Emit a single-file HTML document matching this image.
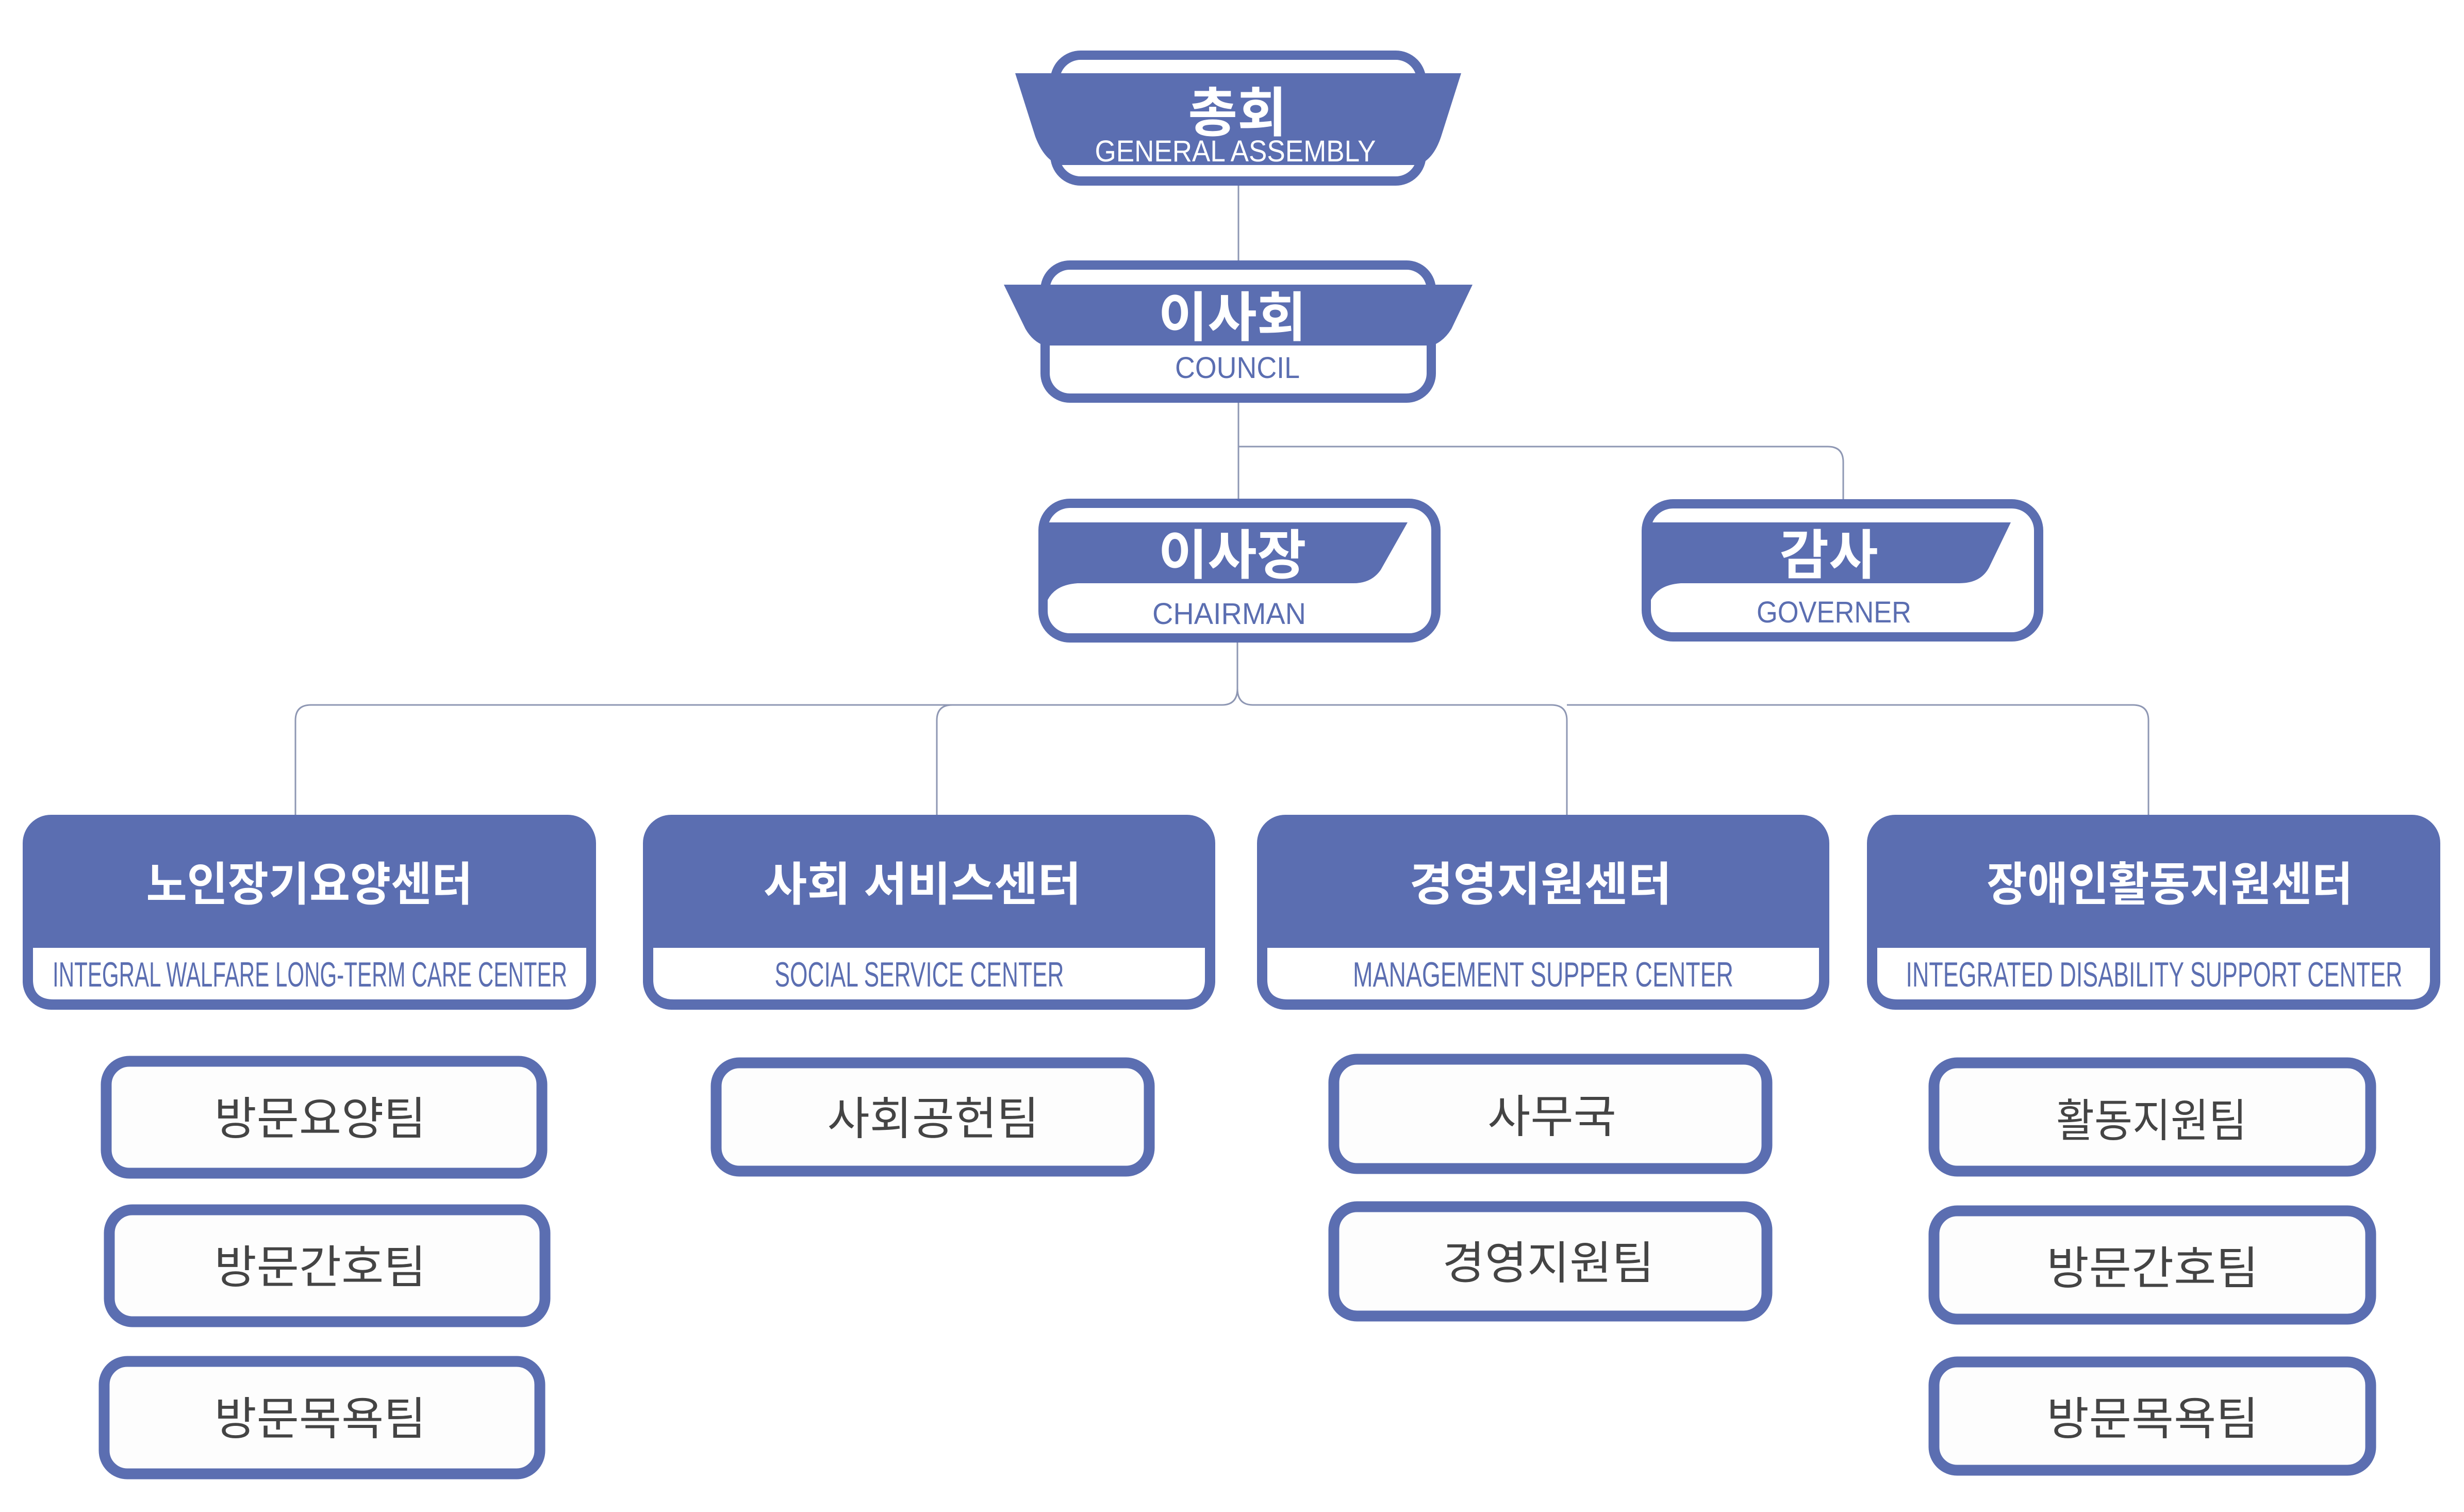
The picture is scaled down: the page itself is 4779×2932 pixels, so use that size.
<!DOCTYPE html>
<html><head><meta charset="utf-8"><style>
html,body{margin:0;padding:0;background:#fff;}
svg{display:block;}
.ko{font-family:"Liberation Sans","Noto Sans CJK KR",sans-serif;}
.en{font-family:"Liberation Sans",sans-serif;}
</style></head><body>
<svg width="4779" height="2932" viewBox="0 0 4779 2932" xmlns="http://www.w3.org/2000/svg">
<g fill="none" stroke="#8e97b3" stroke-width="3">
<line x1="2402" y1="360" x2="2402" y2="505"/>
<line x1="2402" y1="781" x2="2402" y2="967"/>
<path d="M2402 866 H3545 Q3575 866 3575 896 V969"/>
<path d="M2400 1246 V1335 Q2400 1367 2370 1367 H603 Q573 1367 573 1397 V1580"/>
<path d="M2400 1335 Q2400 1367 2430 1367 H3009 Q3039 1367 3039 1397 V1580"/>
<path d="M1847 1367 Q1817 1367 1817 1397 V1580"/>
<path d="M3039 1367 H4137 Q4167 1367 4167 1397 V1580"/>
</g>
<g fill="#5b6eb1">
<rect x="2046" y="107" width="711" height="244" rx="50" fill="#fff" stroke="#5b6eb1" stroke-width="18"/>
<path d="M1969 142 H2834 L2795 265 Q2780 310 2750 320 H2055 Q2025 310 2008 265 Z"/>
<rect x="2027" y="514" width="749" height="258" rx="48" fill="#fff" stroke="#5b6eb1" stroke-width="18"/>
<path d="M1947 552 H2856 L2815 638 Q2800 662 2778 670 H2025 Q2003 662 1989 638 Z"/>
<rect x="2023" y="976" width="762" height="261" rx="52" fill="#fff" stroke="#5b6eb1" stroke-width="18"/>
<path d="M2025 1013 H2730 L2678 1105 Q2660 1131 2625 1131 H2090 Q2030 1135 2025 1190 Z"/>
<rect x="3193" y="977" width="761" height="258" rx="52" fill="#fff" stroke="#5b6eb1" stroke-width="18"/>
<path d="M3195 1013 H3900 L3858 1100 Q3842 1131 3800 1131 H3260 Q3200 1135 3195 1190 Z"/>
</g>
<g fill="#5b6eb1">
<rect x="44" y="1580" width="1112" height="378" rx="55"/>
<rect x="1247" y="1580" width="1110" height="378" rx="55"/>
<rect x="2438" y="1580" width="1110" height="378" rx="55"/>
<rect x="3621" y="1580" width="1112" height="378" rx="55"/>
</g>
<g fill="#fff">
<path d="M64 1838 H1137 V1900 Q1137 1938 1095 1938 H104 Q64 1938 64 1900 Z"/>
<path d="M1267 1838 H2337 V1900 Q2337 1938 2297 1938 H1307 Q1267 1938 1267 1900 Z"/>
<path d="M2458 1838 H3528 V1900 Q3528 1938 3488 1938 H2498 Q2458 1938 2458 1900 Z"/>
<path d="M3641 1838 H4713 V1900 Q4713 1938 4673 1938 H3681 Q3641 1938 3641 1900 Z"/>
</g>
<g fill="#fdfdfd" stroke="#5b6eb1" stroke-width="21">
<rect x="206" y="2058" width="845" height="217" rx="45"/>
<rect x="212" y="2346" width="845" height="217" rx="45"/>
<rect x="202" y="2640" width="845" height="218" rx="45"/>
<rect x="1389" y="2061" width="840" height="210" rx="45"/>
<rect x="2587" y="2054" width="840" height="212" rx="45"/>
<rect x="2587" y="2340" width="840" height="212" rx="45"/>
<rect x="3751" y="2061" width="847" height="210" rx="45"/>
<rect x="3751" y="2348" width="847" height="210" rx="45"/>
<rect x="3751" y="2641" width="847" height="210" rx="45"/>
</g>
<g class="ko" fill="#fff" text-anchor="middle" font-size="104" font-weight="bold">
<text x="2400" y="255">총회</text>
<text x="2390" y="652">이사회</text>
<text x="2390" y="1113">이사장</text>
<text x="3547" y="1113">감사</text>
</g>
<g class="en" fill="#fff" font-size="58" text-anchor="middle">
<text x="2396" y="313" textLength="545" lengthAdjust="spacingAndGlyphs">GENERAL ASSEMBLY</text>
</g>
<g class="en" fill="#5b6eb1" font-size="58" text-anchor="middle">
<text x="2400" y="733" textLength="242" lengthAdjust="spacingAndGlyphs">COUNCIL</text>
<text x="2384" y="1210" textLength="298" lengthAdjust="spacingAndGlyphs">CHAIRMAN</text>
<text x="3557" y="1207" textLength="300" lengthAdjust="spacingAndGlyphs">GOVERNER</text>
</g>
<g class="ko" fill="#fff" font-size="90" text-anchor="middle" font-weight="bold">
<text x="600" y="1746" textLength="633" lengthAdjust="spacingAndGlyphs">노인장기요양센터</text>
<text x="1789" y="1746" textLength="616" lengthAdjust="spacingAndGlyphs">사회 서비스센터</text>
<text x="2988" y="1746" textLength="509" lengthAdjust="spacingAndGlyphs">경영지원센터</text>
<text x="4208" y="1746" textLength="710" lengthAdjust="spacingAndGlyphs">장애인활동지원센터</text>
</g>
<g class="en" fill="#5b6eb1" font-size="68" text-anchor="middle">
<text x="601" y="1913" textLength="998" lengthAdjust="spacingAndGlyphs">INTEGRAL WALFARE LONG-TERM CARE CENTER</text>
<text x="1783" y="1913" textLength="561" lengthAdjust="spacingAndGlyphs">SOCIAL SERVICE CENTER</text>
<text x="2993" y="1913" textLength="738" lengthAdjust="spacingAndGlyphs">MANAGEMENT SUPPER CENTER</text>
<text x="4178" y="1913" textLength="963" lengthAdjust="spacingAndGlyphs">INTEGRATED DISABILITY SUPPORT CENTER</text>
</g>
<g class="ko" fill="#444" font-size="88" text-anchor="middle">
<text x="621" y="2200" textLength="411" lengthAdjust="spacingAndGlyphs">방문요양팀</text>
<text x="621" y="2488" textLength="411" lengthAdjust="spacingAndGlyphs">방문간호팀</text>
<text x="621" y="2782" textLength="411" lengthAdjust="spacingAndGlyphs">방문목욕팀</text>
<text x="1810" y="2200" textLength="411" lengthAdjust="spacingAndGlyphs">사회공헌팀</text>
<text x="3010" y="2196" textLength="250" lengthAdjust="spacingAndGlyphs">사무국</text>
<text x="3003" y="2480" textLength="411" lengthAdjust="spacingAndGlyphs">경영지원팀</text>
<text x="4173" y="2204" textLength="370" lengthAdjust="spacingAndGlyphs">활동지원팀</text>
<text x="4175" y="2490" textLength="411" lengthAdjust="spacingAndGlyphs">방문간호팀</text>
<text x="4175" y="2782" textLength="411" lengthAdjust="spacingAndGlyphs">방문목욕팀</text>
</g>
</svg>
</body></html>
